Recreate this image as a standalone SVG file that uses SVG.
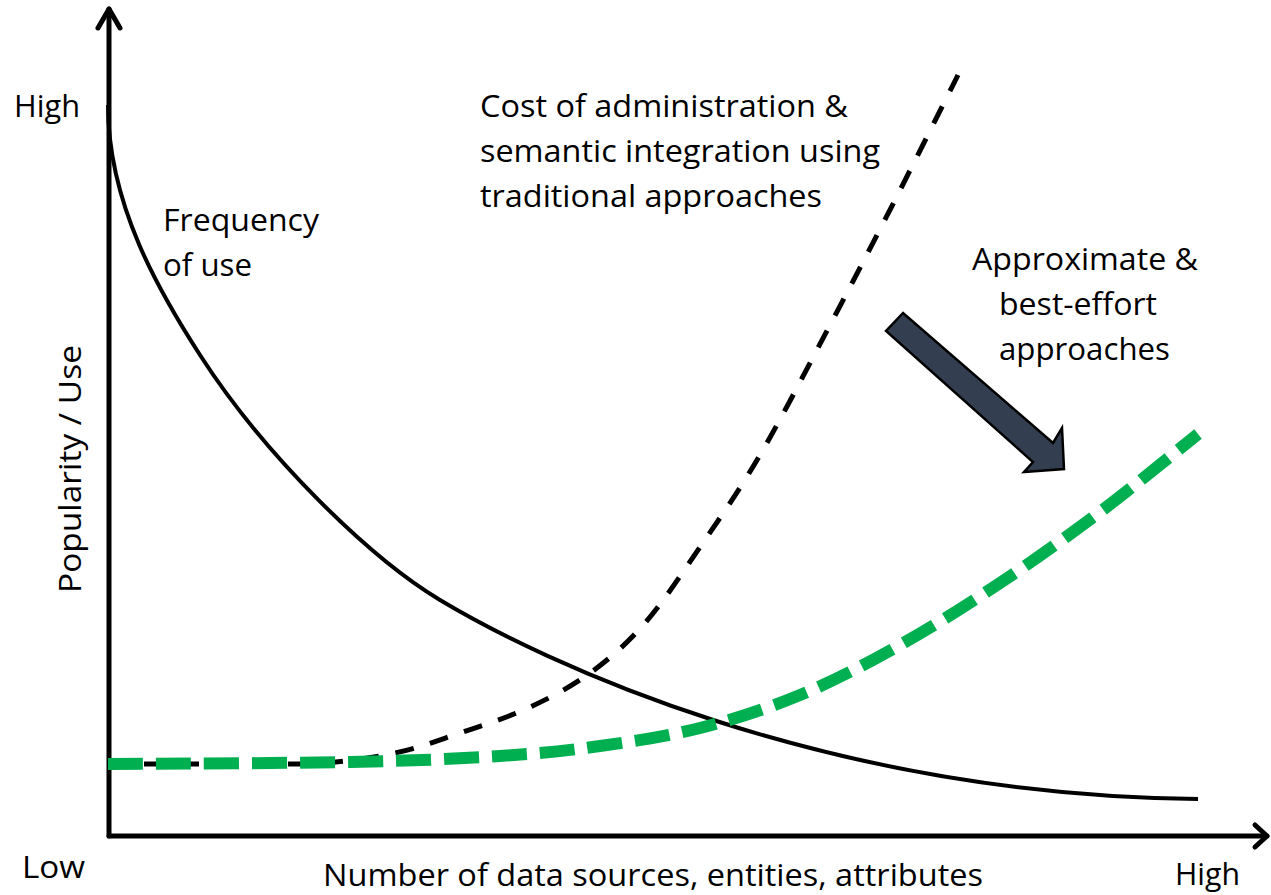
<svg xmlns="http://www.w3.org/2000/svg" width="1271" height="895" viewBox="0 0 1271 895">
  <style>
    .lbl { font-family: "Open Sans", "Liberation Sans", sans-serif; font-size: 31.5px; fill: #000; }
    .axis { fill: none; stroke: #000; stroke-width: 5; stroke-linecap: round; stroke-linejoin: round; }
    .freq { fill: none; stroke: #000; stroke-width: 4; }
    .cost { fill: none; stroke: #000; stroke-width: 5; stroke-dasharray: 19 17; }
    .approx { fill: none; stroke: #00B050; stroke-width: 12; stroke-dasharray: 35 13; }
  </style>
  <rect width="1271" height="895" fill="#fff"/>

  <!-- axes -->
  <g id="axes">
    <path class="axis" d="M109,836 L109,9"/>
    <path class="axis" d="M98,28 L109,9 L120,28"/>
    <path class="axis" d="M109,836 L1267,836"/>
    <path class="axis" d="M1255,825 L1267,836 L1255,847"/>
  </g>

  <!-- curves -->
  <g id="curves">
    <path id="frequency-curve" class="freq" d="M108,105 C108,205 160,293 200,355 C265,456 370,558 440,600 C540,660 820,795 1198,799"/>
    <path id="cost-curve" class="cost" d="M108,764 L300,764 C330,764 363.3,759.2 390,754 C416.7,748.8 437,740.7 460,733 C483,725.3 506.3,718 528,708 C549.7,698 570.5,687.2 590,673 C609.5,658.8 626.7,644 645,623 C663.3,602 680.8,575 700,547 C719.2,519 738.3,492 760,455 C781.7,418 807.5,367.5 830,325 C852.5,282.5 873.7,241.7 895,200 C916.3,158.3 947.5,95.8 958,75"/>
    <path id="approx-curve" class="approx" d="M108,764 C148.3,763.7 284.7,763.3 350,762 C415.3,760.7 458.3,758.7 500,756 C541.7,753.3 566.7,750.7 600,746 C633.3,741.3 666.7,736.5 700,728 C733.3,719.5 766.7,708.8 800,695 C833.3,681.2 866.7,663.7 900,645 C933.3,626.3 966.7,605.2 1000,583 C1033.3,560.8 1067,536.8 1100,512 C1133,487.2 1181.7,447 1198,434"/>
  </g>

  <!-- trend arrow -->
  <g id="trend-arrow">
    <polygon points="903,313 886,331 1033,462 1024,472 1064,469 1062,428 1053,443" fill="#333F50" stroke="#000" stroke-width="2.5" stroke-linejoin="miter"/>
  </g>

  <!-- labels -->
  <g id="axis-labels">
    <text class="lbl" x="14" y="117" textLength="66" lengthAdjust="spacingAndGlyphs">High</text>
    <text class="lbl" x="22" y="878" textLength="63" lengthAdjust="spacingAndGlyphs">Low</text>
    <text class="lbl" x="323" y="886" textLength="660" lengthAdjust="spacingAndGlyphs">Number of data sources, entities, attributes</text>
    <text class="lbl" x="1175" y="885" textLength="65" lengthAdjust="spacingAndGlyphs">High</text>
    <text class="lbl" transform="translate(81,469) rotate(-90)" text-anchor="middle" textLength="248" lengthAdjust="spacingAndGlyphs">Popularity / Use</text>
  </g>

  <g id="label-cost">
    <text class="lbl" x="480" y="117" textLength="368" lengthAdjust="spacingAndGlyphs">Cost of administration &amp;</text>
    <text class="lbl" x="480" y="162" textLength="400" lengthAdjust="spacingAndGlyphs">semantic integration using</text>
    <text class="lbl" x="480" y="207" textLength="342" lengthAdjust="spacingAndGlyphs">traditional approaches</text>
  </g>

  <g id="label-frequency">
    <text class="lbl" x="163" y="231" textLength="156" lengthAdjust="spacingAndGlyphs">Frequency</text>
    <text class="lbl" x="163" y="276" textLength="89" lengthAdjust="spacingAndGlyphs">of use</text>
  </g>

  <g id="label-approx">
    <text class="lbl" x="972" y="270" textLength="226" lengthAdjust="spacingAndGlyphs">Approximate &amp;</text>
    <text class="lbl" x="999" y="315" textLength="158" lengthAdjust="spacingAndGlyphs">best-effort</text>
    <text class="lbl" x="999" y="360" textLength="171" lengthAdjust="spacingAndGlyphs">approaches</text>
  </g>
</svg>
